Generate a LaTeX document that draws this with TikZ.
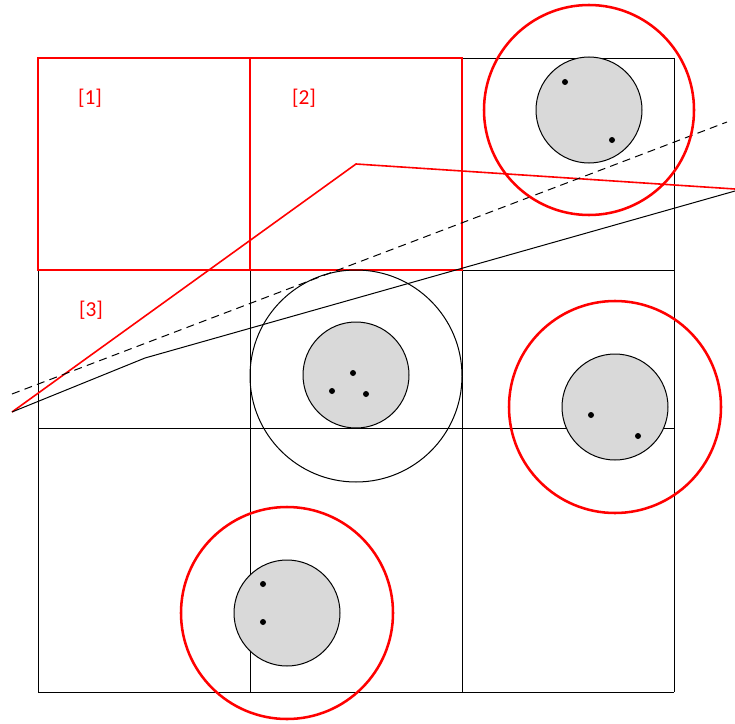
\documentclass[tikz,border=0pt]{standalone}
\usepackage{fontspec}
\setmainfont{Carlito}
\usepackage{xcolor}
\usetikzlibrary{positioning,calc}

\begin{document}
\begin{tikzpicture}[
		x=0.75pt,y=-0.75pt,
		grid/.style={draw=black,line width=0.7pt},
		zone/.style={draw=red,line width=1.2pt},
		reach/.style={draw=red,line width=1.9pt},
		cover/.style={draw=black,line width=0.75pt},
		core/.style={draw=black,fill=black!15,line width=0.75pt},
		pt/.style={fill=black},
		tag/.style={text=red,font=\fontsize{16}{18}\selectfont}
		]
		
		\useasboundingbox (0,0) rectangle (735,724);
		
		% grid
		\foreach \x in {38,250,462,674}
		\draw[grid] (\x,58)--(\x,692);
		\foreach \y in {58,270,428,692}
		\draw[grid] (38,\y)--(674,\y);
		
		% red cells
		\draw[zone] (38,58) rectangle (250,270);
		\draw[zone] (250,58) rectangle (462,270);
		\node[tag] (one) at (90,98) {[1]};
		\node[tag] (two) at (304,98) {[2]};
		\node[tag] (three) at (91,310) {[3]};
		
		% paths
		\coordinate (start) at (12,412);
		\coordinate (peak) at (356,164);
		\coordinate (redend) at (735,189);
		\coordinate (bend) at (145,358);
		\coordinate (blackend) at (735,191);
		\coordinate (dstart) at (12,394);
		\coordinate (dend) at (727,122);
		\draw[red,line width=1.2pt] (start)--(peak)--(redend);
		\draw[black,line width=0.75pt] (start)--(bend)--(blackend);
		\draw[black,line width=0.75pt,dash pattern=on 6pt off 4pt] (dstart)--(dend);
		
		% clusters
		\draw[reach] (589,110) circle (105);
		\draw[core] (589,110) circle (53);
		\fill[pt] (565,82) circle (3) (612,140) circle (3);
		
		\draw[cover] (356,376) circle (106);
		\draw[core] (356,375) circle (53);
		\fill[pt] (353,373) circle (3) (332,391) circle (3) (366,394) circle (3);
		
		\draw[reach] (615,407) circle (106);
		\draw[core] (615,407) circle (53);
		\fill[pt] (591,415) circle (3) (638,436) circle (3);
		
		\draw[reach] (287,613) circle (106);
		\draw[core] (287,613) circle (53);
		\fill[pt] (263,584) circle (3) (263,622) circle (3);
		
	\end{tikzpicture}
\end{document}
